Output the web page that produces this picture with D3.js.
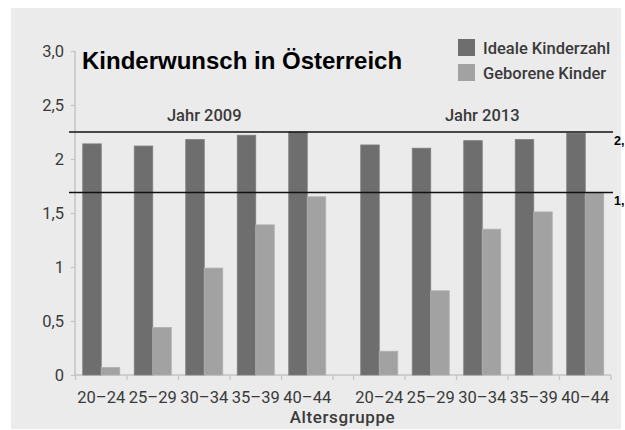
<!DOCTYPE html>
<html>
<head>
<meta charset="utf-8">
<script src="https://cdn.jsdelivr.net/npm/d3@7"></script>
<style>
  html, body { margin: 0; padding: 0; background: #ffffff; }
  svg { display: block; }
</style>
</head>
<body>
<svg id="chart" width="625" height="430"></svg>
<script>
// ---- data ----
const categories = ["20–24", "25–29", "30–34", "35–39", "40–44"];
const years = ["Jahr 2009", "Jahr 2013"];
const seriesNames = ["Ideale Kinderzahl", "Geborene Kinder"];
const ideal2009 = [2.14, 2.12, 2.18, 2.22, 2.25];
const born2009  = [0.07, 0.44, 0.99, 1.39, 1.65];
const ideal2013 = [2.13, 2.10, 2.17, 2.18, 2.24];
const born2013  = [0.22, 0.78, 1.35, 1.51, 1.69];
const yTicks = [0, 0.5, 1, 1.5, 2, 2.5, 3.0];
const yTickLabels = ["0", "0,5", "1", "1,5", "2", "2,5", "3,0"];
const refValues = [2.25, 1.69];
const refLabels = ["2,", "1,"];
const title = "Kinderwunsch in Österreich";
const xTitle = "Altersgruppe";

// ---- build ----
const valuesByYear = {
  "Jahr 2009": [ideal2009, born2009],
  "Jahr 2013": [ideal2013, born2013]
};
const rows = [];
years.forEach(yr => categories.forEach((c, i) => seriesNames.forEach((s, k) => {
  rows.push({ year: yr, cat: c, series: s, value: valuesByYear[yr][k][i] });
})));

const svg = d3.select("#chart");
const colors = d3.scaleOrdinal().domain(seriesNames).range(["#6e6e6e", "#a2a2a2"]);
const strokes = d3.scaleOrdinal().domain(seriesNames).range(["#7e7e7e", "#b0b0b0"]);

const baseY = 375, topY = 51;
const y = d3.scaleLinear().domain([0, 3]).range([baseY, topY]);
const xYear = d3.scaleBand().domain(years).range([75.5, 611]).paddingInner(0.0737).paddingOuter(0);
const xCat = d3.scaleBand().domain(categories).range([0, xYear.bandwidth()]).padding(0);
const xSer = d3.scaleBand().domain(seriesNames).range([0, xCat.bandwidth()]).paddingInner(0).paddingOuter(0.392);

const fontTick = "Roboto, 'Open Sans', sans-serif";

// background
svg.append("rect").attr("x", 11).attr("y", 8).attr("width", 610).attr("height", 421).attr("fill", "#ebebeb");

// y axis
const yAxisG = svg.append("g").attr("transform", "translate(75,0)")
  .call(d3.axisLeft(y).tickValues(yTicks).tickSize(4).tickPadding(7)
    .tickFormat((d, i) => yTickLabels[i]));
yAxisG.select(".domain").remove();
yAxisG.selectAll(".tick line").attr("stroke", "#c4c4c4").attr("stroke-width", 1.2);
yAxisG.selectAll(".tick text").attr("font-family", fontTick).attr("font-size", 16.5)
  .attr("fill", "#3a3a3a").attr("dy", "0.32em");
svg.append("line").attr("x1", 75).attr("x2", 75).attr("y1", y(3)).attr("y2", baseY)
  .attr("stroke", "#c4c4c4").attr("stroke-width", 1.5);

// x axis: per year group
years.forEach(yr => {
  const g = svg.append("g").attr("transform", `translate(${xYear(yr)},${baseY})`);
  const ax = d3.axisBottom(xCat).tickSize(0).tickPadding(16);
  g.call(ax);
  g.select(".domain").remove();
  g.selectAll(".tick text").attr("font-family", fontTick).attr("font-size", 16.5).attr("fill", "#3a3a3a");
  const bounds = categories.map(c => xCat(c)).concat([xYear.bandwidth()]);
  g.selectAll("line.tk").data(bounds).enter().append("line").attr("class", "tk")
    .attr("x1", d => d).attr("x2", d => d).attr("y1", 0).attr("y2", 5)
    .attr("stroke", "#c4c4c4").attr("stroke-width", 1.2);
});
svg.append("line").attr("x1", 74).attr("x2", 611).attr("y1", baseY).attr("y2", baseY)
  .attr("stroke", "#c4c4c4").attr("stroke-width", 1.5);

// bars
svg.append("g").selectAll("rect").data(rows).enter().append("rect")
  .attr("x", d => xYear(d.year) + xCat(d.cat) + xSer(d.series))
  .attr("y", d => y(d.value))
  .attr("width", xSer.bandwidth())
  .attr("height", d => baseY - y(d.value))
  .attr("fill", d => colors(d.series))
  .attr("stroke", d => strokes(d.series)).attr("stroke-width", 0.8);

// year labels
svg.append("g").selectAll("text").data(years).enter().append("text")
  .attr("x", d => xYear(d) + xYear.bandwidth() / 2).attr("y", 121)
  .attr("text-anchor", "middle").attr("font-family", fontTick).attr("font-size", 16.5)
  .attr("font-weight", 500).attr("fill", "#3a3a3a").text(d => d);

// axis title
svg.append("text").attr("x", (74 + 611) / 2).attr("y", 423).attr("text-anchor", "middle")
  .attr("font-family", fontTick).attr("font-size", 17).attr("font-weight", 500)
  .attr("letter-spacing", 0.6).attr("fill", "#3a3a3a").text(xTitle);

// title
svg.append("text").attr("x", 82).attr("y", 69).attr("font-family", "'Liberation Sans', Arial, sans-serif")
  .attr("font-weight", "bold").attr("font-size", 24).attr("fill", "#000").text(title);

// legend
const leg = svg.append("g").selectAll("g").data(seriesNames).enter().append("g")
  .attr("transform", (d, i) => `translate(458,${39 + i * 25})`);
leg.append("rect").attr("width", 17).attr("height", 17).attr("fill", d => colors(d));
leg.append("text").attr("x", 25).attr("y", 14.5).attr("font-family", fontTick).attr("font-size", 16.5)
  .attr("font-weight", 500).attr("fill", "#3a3a3a").text(d => d);

// reference lines
const ref = svg.append("g").selectAll("g").data(refValues).enter().append("g");
ref.append("line").attr("x1", 69).attr("x2", 613).attr("y1", d => y(d)).attr("y2", d => y(d))
  .attr("stroke", "#111").attr("stroke-width", 1.4);
ref.append("text").attr("x", 614).attr("y", d => y(d) + 13)
  .attr("font-family", "'Liberation Sans', Arial, sans-serif").attr("font-weight", "bold")
  .attr("font-size", 12.5).attr("fill", "#000").text((d, i) => refLabels[i]);
</script>
</body>
</html>
